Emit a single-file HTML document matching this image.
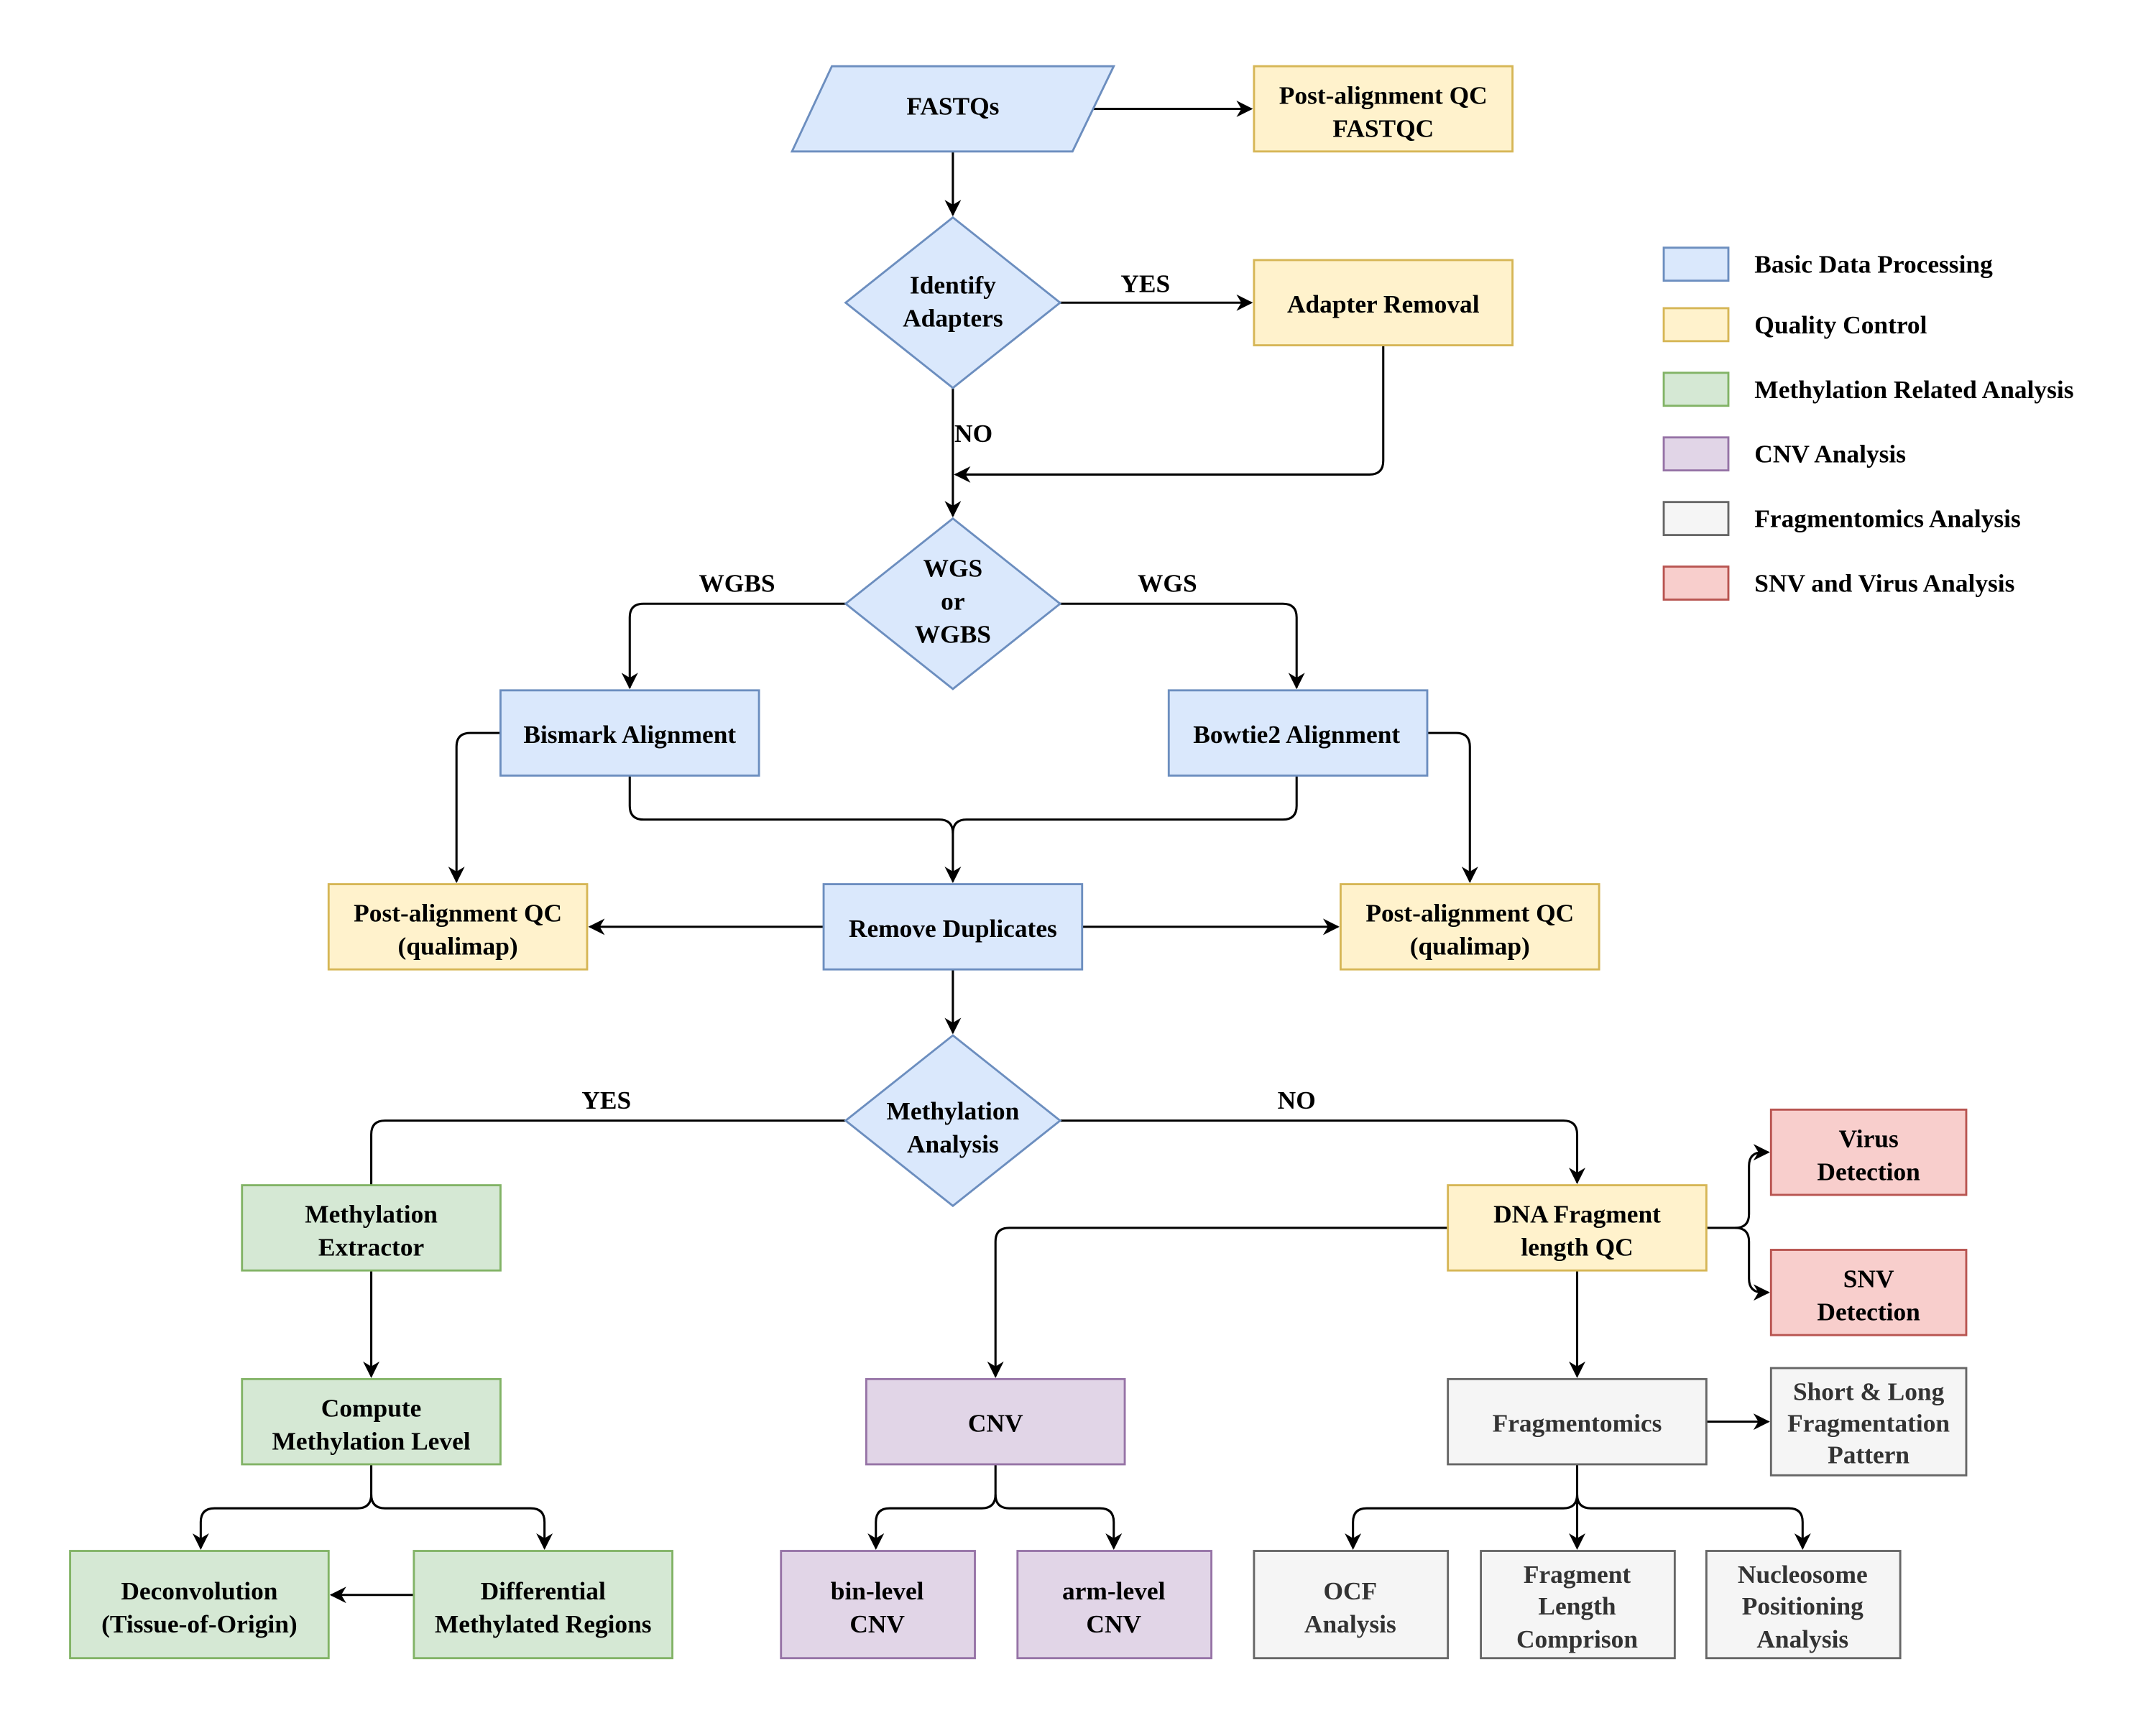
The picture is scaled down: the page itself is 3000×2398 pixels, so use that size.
<!DOCTYPE html>
<html><head><meta charset="utf-8"><style>
html,body{margin:0;padding:0;background:#fff;}
svg{display:block;}
svg text{font-family:"Liberation Serif","Times New Roman",Times,serif;font-weight:bold;font-size:18.5px;text-anchor:middle;dominant-baseline:central;fill:#000;}
.g text{fill:#333;}
.l text{text-anchor:start;}
</style></head><body>
<svg width="3000" height="2398" viewBox="0 0 1568 1253" xmlns="http://www.w3.org/2000/svg" font-family="Liberation Serif, Times New Roman, serif" font-weight="bold">
<defs>
<marker id="a" viewBox="0 0 10 10" refX="9" refY="5" markerWidth="12" markerHeight="12" markerUnits="userSpaceOnUse" orient="auto">
<path d="M0,0 L10,5 L0,10 L3,5 Z" fill="#000"/></marker>
</defs>
<g fill="none" stroke="#000" stroke-width="1.6">
<path d="M795,79 H910" marker-end="url(#a)"/>
<path d="M693,110 V156" marker-end="url(#a)"/>
<path d="M771,220 H910" marker-end="url(#a)"/>
<path d="M1006,251 V335 Q1006,345 996,345 H695" marker-end="url(#a)"/>
<path d="M693,282 V375" marker-end="url(#a)"/>
<path d="M615,439 H468 Q458,439 458,449 V500" marker-end="url(#a)"/>
<path d="M771,439 H933 Q943,439 943,449 V500" marker-end="url(#a)"/>
<path d="M364,533 H342 Q332,533 332,543 V641" marker-end="url(#a)"/>
<path d="M1038,533 H1059 Q1069,533 1069,543 V641" marker-end="url(#a)"/>
<path d="M458,564 V586 Q458,596 468,596 H683 Q693,596 693,606 V641" marker-end="url(#a)"/>
<path d="M943,564 V586 Q943,596 933,596 H703 Q693,596 693,606"/>
<path d="M599,674 H429" marker-end="url(#a)"/>
<path d="M787,674 H973" marker-end="url(#a)"/>
<path d="M693,705 V751" marker-end="url(#a)"/>
<path d="M615,815 H280 Q270,815 270,825 V862"/>
<path d="M771,815 H1137 Q1147,815 1147,825 V860" marker-end="url(#a)"/>
<path d="M270,924 V1001" marker-end="url(#a)"/>
<path d="M270,1065 V1087 Q270,1097 260,1097 H156 Q146,1097 146,1107 V1126" marker-end="url(#a)"/>
<path d="M270,1087 Q270,1097 280,1097 H386 Q396,1097 396,1107 V1126" marker-end="url(#a)"/>
<path d="M301,1160 H241" marker-end="url(#a)"/>
<path d="M1053,893 H734 Q724,893 724,903 V1001" marker-end="url(#a)"/>
<path d="M724,1065 V1087 Q724,1097 714,1097 H647 Q637,1097 637,1107 V1126" marker-end="url(#a)"/>
<path d="M724,1087 Q724,1097 734,1097 H800 Q810,1097 810,1107 V1126" marker-end="url(#a)"/>
<path d="M1241,893 H1262 Q1272,893 1272,883 V848 Q1272,838 1282,838 H1286" marker-end="url(#a)"/>
<path d="M1262,893 Q1272,893 1272,903 V930 Q1272,940 1282,940 H1286" marker-end="url(#a)"/>
<path d="M1147,924 V1001" marker-end="url(#a)"/>
<path d="M1241,1034 H1286" marker-end="url(#a)"/>
<path d="M1147,1065 V1087 Q1147,1097 1137,1097 H994 Q984,1097 984,1107 V1126" marker-end="url(#a)"/>
<path d="M1147,1087 V1126" marker-end="url(#a)"/>
<path d="M1147,1087 Q1147,1097 1157,1097 H1301 Q1311,1097 1311,1107 V1126" marker-end="url(#a)"/>
</g>
<g stroke-width="1.5">
<g fill="#dae8fc" stroke="#6c8ebf">
<polygon points="605,48 810,48 780,110 576,110"/>
<polygon points="693,158 771,220 693,282 615,220"/>
<polygon points="693,377 771,439 693,501 615,439"/>
<polygon points="693,753 771,815 693,877 615,815"/>
<rect x="364" y="502" width="188" height="62"/>
<rect x="850" y="502" width="188" height="62"/>
<rect x="599" y="643" width="188" height="62"/>
<rect x="1210" y="180" width="47" height="24"/>
</g>
<g fill="#fff2cc" stroke="#d6b656">
<rect x="912" y="48" width="188" height="62"/>
<rect x="912" y="189" width="188" height="62"/>
<rect x="239" y="643" width="188" height="62"/>
<rect x="975" y="643" width="188" height="62"/>
<rect x="1053" y="862" width="188" height="62"/>
<rect x="1210" y="224" width="47" height="24"/>
</g>
<g fill="#d5e8d4" stroke="#82b366">
<rect x="176" y="862" width="188" height="62"/>
<rect x="176" y="1003" width="188" height="62"/>
<rect x="51" y="1128" width="188" height="78"/>
<rect x="301" y="1128" width="188" height="78"/>
<rect x="1210" y="271" width="47" height="24"/>
</g>
<g fill="#e1d5e7" stroke="#9673a6">
<rect x="630" y="1003" width="188" height="62"/>
<rect x="568" y="1128" width="141" height="78"/>
<rect x="740" y="1128" width="141" height="78"/>
<rect x="1210" y="318" width="47" height="24"/>
</g>
<g fill="#f5f5f5" stroke="#666666">
<rect x="1053" y="1003" width="188" height="62"/>
<rect x="1288" y="995" width="142" height="78"/>
<rect x="912" y="1128" width="141" height="78"/>
<rect x="1077" y="1128" width="141" height="78"/>
<rect x="1241" y="1128" width="141" height="78"/>
<rect x="1210" y="365" width="47" height="24"/>
</g>
<g fill="#f8cecc" stroke="#b85450">
<rect x="1288" y="807" width="142" height="62"/>
<rect x="1288" y="909" width="142" height="62"/>
<rect x="1210" y="412" width="47" height="24"/>
</g>
</g>
<text x="693" y="77">FASTQs</text>
<text x="1006" y="69">Post-alignment QC</text><text x="1006" y="93">FASTQC</text>
<text x="693" y="207">Identify</text><text x="693" y="231">Adapters</text>
<text x="833" y="206">YES</text>
<text x="1006" y="221">Adapter Removal</text>
<text x="708" y="315">NO</text>
<text x="693" y="413">WGS</text><text x="693" y="437">or</text><text x="693" y="461">WGBS</text>
<text x="536" y="424">WGBS</text><text x="849" y="424">WGS</text>
<text x="458" y="534">Bismark Alignment</text>
<text x="943" y="534">Bowtie2 Alignment</text>
<text x="333" y="664">Post-alignment QC</text><text x="333" y="688">(qualimap)</text>
<text x="693" y="675">Remove Duplicates</text>
<text x="1069" y="664">Post-alignment QC</text><text x="1069" y="688">(qualimap)</text>
<text x="693" y="808">Methylation</text><text x="693" y="832">Analysis</text>
<text x="441" y="800">YES</text><text x="943" y="800">NO</text>
<text x="270" y="883">Methylation</text><text x="270" y="907">Extractor</text>
<text x="270" y="1024">Compute</text><text x="270" y="1048">Methylation Level</text>
<text x="145" y="1157">Deconvolution</text><text x="145" y="1181">(Tissue-of-Origin)</text>
<text x="395" y="1157">Differential</text><text x="395" y="1181">Methylated Regions</text>
<text x="1147" y="883">DNA Fragment</text><text x="1147" y="907">length QC</text>
<text x="724" y="1035">CNV</text>
<text x="638" y="1157">bin-level</text><text x="638" y="1181">CNV</text>
<text x="810" y="1157">arm-level</text><text x="810" y="1181">CNV</text>
<text x="1359" y="828">Virus</text><text x="1359" y="852">Detection</text>
<text x="1359" y="930">SNV</text><text x="1359" y="954">Detection</text>
<g class="g">
<text x="1147" y="1035">Fragmentomics</text>
<text x="1359" y="1012">Short &amp; Long</text><text x="1359" y="1035">Fragmentation</text><text x="1359" y="1058">Pattern</text>
<text x="982" y="1157">OCF</text><text x="982" y="1181">Analysis</text>
<text x="1147" y="1145">Fragment</text><text x="1147" y="1168">Length</text><text x="1147" y="1192">Comprison</text>
<text x="1311" y="1145">Nucleosome</text><text x="1311" y="1168">Positioning</text><text x="1311" y="1192">Analysis</text>
</g>
<g class="l">
<text x="1276" y="192">Basic Data Processing</text>
<text x="1276" y="236">Quality Control</text>
<text x="1276" y="283">Methylation Related Analysis</text>
<text x="1276" y="330">CNV Analysis</text>
<text x="1276" y="377">Fragmentomics Analysis</text>
<text x="1276" y="424">SNV and Virus Analysis</text>
</g>
</svg>
</body></html>
